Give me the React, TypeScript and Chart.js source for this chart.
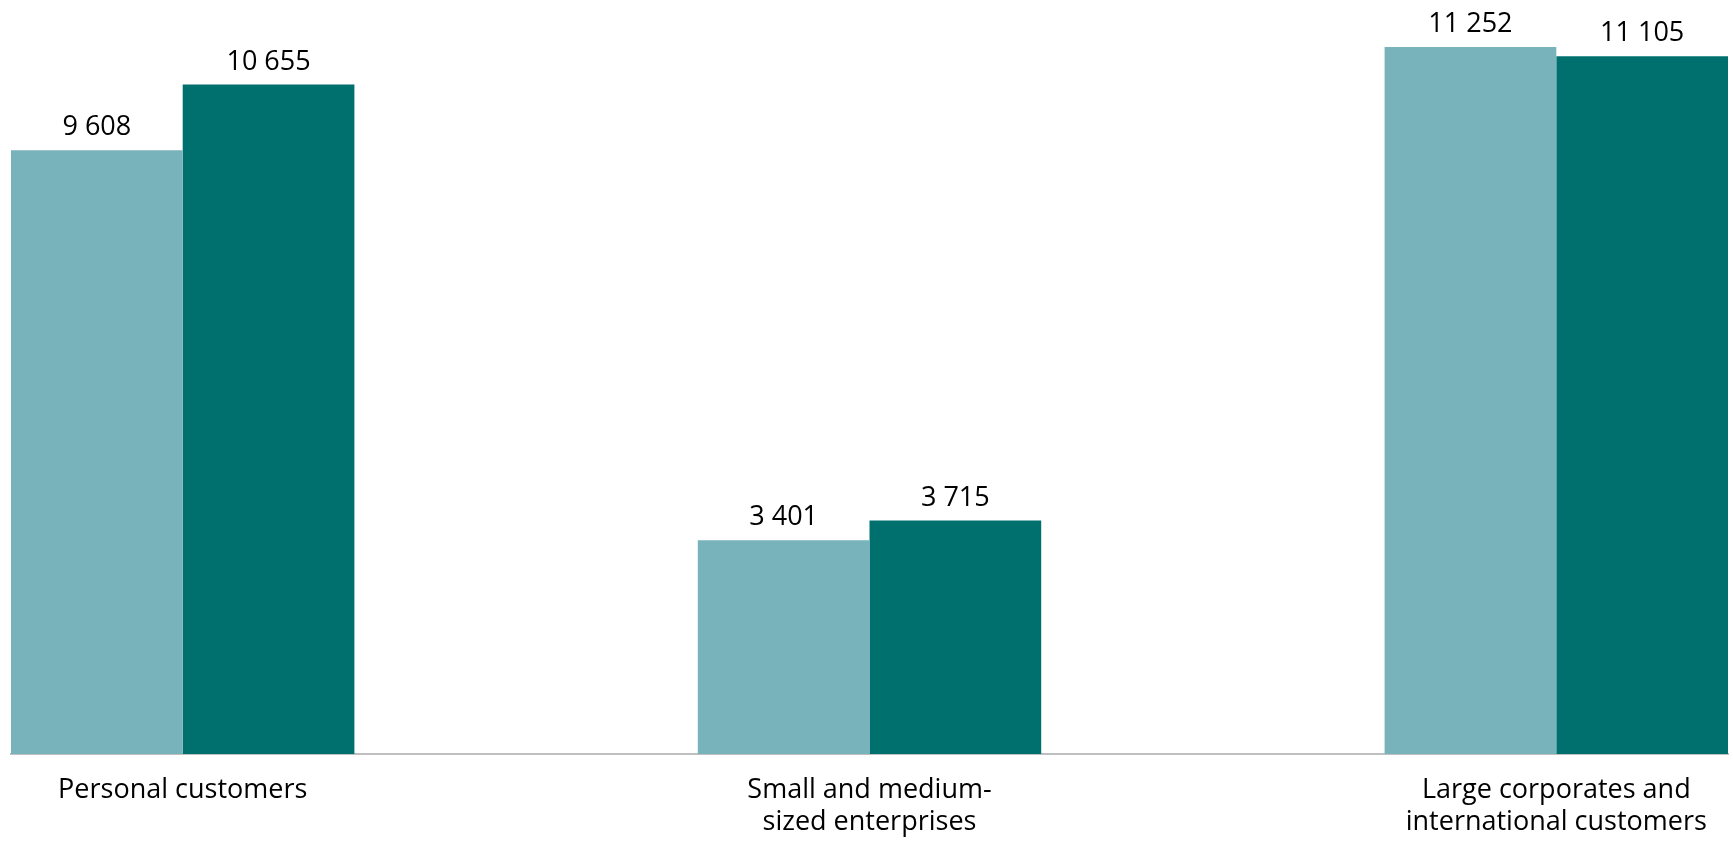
import React, { useEffect, useRef } from "react";
import { Chart, registerables } from "chart.js";

Chart.register(...registerables);

const categories: string[][] = [
  ["Personal customers"],
  ["Small and medium-", "sized enterprises"],
  ["Large corporates and", "international customers"],
];
const seriesPrev: number[] = [9608, 3401, 11252];
const seriesCurr: number[] = [10655, 3715, 11105];
const colorPrev = "#78B2BB";
const colorCurr = "#00706F";
const FONT = "'Open Sans', 'Noto Sans', sans-serif";

const fmt = (v: number) => String(v).replace(/\B(?=(\d{3})+(?!\d))/g, " ");

const valueLabels = {
  id: "valueLabels",
  afterDatasetsDraw(chart: any) {
    const ctx = chart.ctx;
    ctx.save();
    ctx.font = `27px ${FONT}`;
    ctx.fillStyle = "#000";
    ctx.textAlign = "center";
    ctx.textBaseline = "alphabetic";
    chart.data.datasets.forEach((ds: any, di: number) => {
      const meta = chart.getDatasetMeta(di);
      meta.data.forEach((el: any, i: number) => {
        const v = ds.data[i].y;
        ctx.fillText(fmt(v), el.x, el.y - 15);
      });
    });
    ctx.restore();
  },
};

export default function App() {
  const ref = useRef<HTMLCanvasElement | null>(null);
  useEffect(() => {
    if (!ref.current) return;
    const chart = new Chart(ref.current, {
      type: "bar",
      data: {
        datasets: [
          {
            label: "Previous",
            data: seriesPrev.map((y, x) => ({ x, y })),
            backgroundColor: colorPrev,
            borderWidth: 0,
            clip: false as any,
          },
          {
            label: "Current",
            data: seriesCurr.map((y, x) => ({ x, y })),
            backgroundColor: colorCurr,
            borderWidth: 0,
            clip: false as any,
          },
        ],
      },
      options: {
        animation: false,
        responsive: true,
        maintainAspectRatio: false,
        layout: { padding: { left: 11, right: 5, top: 0, bottom: 0 } },
        plugins: { legend: { display: false }, tooltip: { enabled: false } },
        datasets: { bar: { categoryPercentage: 0.5, barPercentage: 1 } },
        scales: {
          x: {
            type: "linear",
            offset: false,
            min: -0.25,
            max: 2.25,
            grid: { display: false, offset: false },
            border: { display: true, color: "#BFBFBF", width: 2 },
            afterFit: (scale: any) => {
              scale.height = 92;
            },
            ticks: {
              stepSize: 1,
              includeBounds: false,
              autoSkip: false,
              maxRotation: 0,
              padding: 12,
              color: "#000",
              font: { family: FONT, size: 27, lineHeight: 1.2 },
              callback: (value: any) => {
                const i = Number(value);
                return Number.isInteger(i) && categories[i] ? categories[i] : "";
              },
            },
          } as any,
          y: {
            display: false,
            min: 0,
            max: 12000,
          },
        },
      },
      plugins: [valueLabels],
    });
    return () => chart.destroy();
  }, []);
  return (
    <div style={{ position: "absolute", left: 0, top: 0, width: 1733, height: 846, background: "#fff" }}>
      <canvas ref={ref} />
    </div>
  );
}
